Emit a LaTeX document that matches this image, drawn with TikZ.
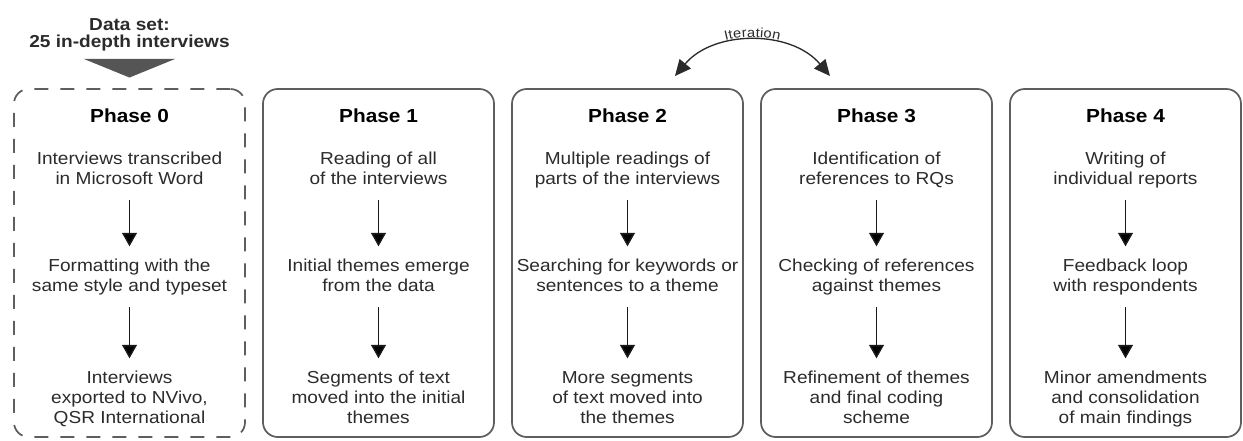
\documentclass[tikz,border=0pt]{standalone}
\usepackage{fontspec}
\setmainfont{Liberation Sans}[FakeStretch=1.1]
\usetikzlibrary{arrows.meta,positioning,calc,decorations.text}
\definecolor{frame}{HTML}{5E5E5E}
\definecolor{ink}{HTML}{2B2B2B}
\definecolor{wedge}{HTML}{555555}

\begin{document}
\begin{tikzpicture}[auto, phase/.style = {draw = frame, line width = 1.3pt, rounded corners = 11pt, minimum width = 173.25pt, minimum height = 261pt, inner sep = 0pt, outer sep = 0pt}, ttl/.style = {anchor = base, font = \fontsize{14.2}{16}\selectfont\bfseries, text = black}, txt/.style = {align = center, inner sep = 0pt, text = ink, font = \fontsize{13}{15}\selectfont, execute at begin node = \strut, execute at end node = \strut}, flow/.style = {-{Triangle[length = 10pt, width = 11pt]}, line width = 1.2pt, draw = black!90, shorten < = 6.5pt, shorten > = 9.5pt}, iter/.style = {{Triangle[length = 12pt, width = 11pt]}-{Triangle[length = 12pt, width = 11pt]}, line width = 1pt, draw = ink}]
	\useasboundingbox (0,0) rectangle (932.25pt,-330.75pt);

	% input data
	\node[txt, anchor = north, font = \fontsize{13}{12.5}\selectfont\bfseries](data) at (97.125pt,-13.75pt){Data set:\\25 in-depth interviews};

	% phase boxes
	\node[phase, dash pattern = on 10.5pt off 9pt](p0) at (97.125pt,-197.25pt){};
	\node[phase](p1)[right = 13.5pt of p0]{};
	\node[phase](p2)[right = 13.5pt of p1]{};
	\node[phase](p3)[right = 13.5pt of p2]{};
	\node[phase](p4)[right = 13.5pt of p3]{};

	\node[ttl](t0) at ([yshift = -25.5pt]p0.north){Phase 0};
	\node[ttl](t1) at ([yshift = -25.5pt]p1.north){Phase 1};
	\node[ttl](t2) at ([yshift = -25.5pt]p2.north){Phase 2};
	\node[ttl](t3) at ([yshift = -25.5pt]p3.north){Phase 3};
	\node[ttl](t4) at ([yshift = -25.5pt]p4.north){Phase 4};

	% steps in each phase
	\node[txt](a0)[below = 47.25pt of p0.north]{Interviews transcribed\\in Microsoft Word};
	\node[txt](b0)[below = 127.5pt of p0.north]{Formatting with the\\same style and typeset};
	\node[txt](c0)[below = 211.5pt of p0.north]{Interviews\\exported to NVivo,\\QSR International};
	\node[txt](a1)[below = 47.25pt of p1.north]{Reading of all\\of the interviews};
	\node[txt](b1)[below = 127.5pt of p1.north]{Initial themes emerge\\from the data};
	\node[txt](c1)[below = 211.5pt of p1.north]{Segments of text\\moved into the initial\\themes};
	\node[txt](a2)[below = 47.25pt of p2.north]{Multiple readings of\\parts of the interviews};
	\node[txt](b2)[below = 127.5pt of p2.north]{Searching for keywords or\\sentences to a theme};
	\node[txt](c2)[below = 211.5pt of p2.north]{More segments\\of text moved into\\the themes};
	\node[txt](a3)[below = 47.25pt of p3.north]{Identification of\\references to RQs};
	\node[txt](b3)[below = 127.5pt of p3.north]{Checking of references\\against themes};
	\node[txt](c3)[below = 211.5pt of p3.north]{Refinement of themes\\and final coding\\scheme};
	\node[txt](a4)[below = 47.25pt of p4.north]{Writing of\\individual reports};
	\node[txt](b4)[below = 127.5pt of p4.north]{Feedback loop\\with respondents};
	\node[txt](c4)[below = 211.5pt of p4.north]{Minor amendments\\and consolidation\\of main findings};

	\fill[wedge] ($(data.south)+(-34.5pt,-4.75pt)$) -- ($(data.south)+(34.5pt,-4.75pt)$) -- ($(p0.north)+(0,8.6pt)$) -- cycle;

	\path[flow](a0) edge (b0);
	\path[flow](b0) edge (c0);
	\path[flow](a1) edge (b1);
	\path[flow](b1) edge (c1);
	\path[flow](a2) edge (b2);
	\path[flow](b2) edge (c2);
	\path[flow](a3) edge (b3);
	\path[flow](b3) edge (c3);
	\path[flow](a4) edge (b4);
	\path[flow](b4) edge (c4);

	% iteration between phase 2 and 3
	\coordinate (itl) at (506.25pt,-57pt);
	\coordinate (itr) at (622.5pt,-57pt);
	\draw[iter, postaction = {decorate, decoration = {text along path, text = {|\fontsize{10}{12}\selectfont\color{ink}|Iteration}, text align = center, raise = 3pt}}](itl) to[bend left = 50] (itr);

\end{tikzpicture}
\end{document}
